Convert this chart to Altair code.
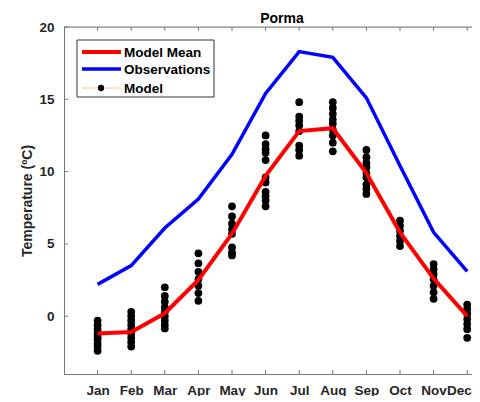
import altair as alt
import pandas as pd

# ─────────────────────────────────────────────────────────────────────────────
# DATI
# ─────────────────────────────────────────────────────────────────────────────
MONTHS = ["Jan", "Feb", "Mar", "Apr", "May", "Jun",
          "Jul", "Aug", "Sep", "Oct", "Nov", "Dec"]
SERIES = ["Model Mean", "Observations", "Model"]
Y_TICKS = [0, 5, 10, 15, 20]
TITLE = "Porma"

observations = [2.2, 3.5, 6.1, 8.1, 11.2, 15.4, 18.3, 17.9, 15.1, 10.4, 5.8, 3.1]
model_mean = [-1.2, -1.1, 0.2, 2.5, 5.7, 9.7, 12.8, 13.0, 9.9, 5.8, 2.6, 0.0]

model_runs = [
    [-0.3, -0.6, -0.9, -1.2, -1.4, -1.6, -1.9, -2.1, -2.4],
    [0.3, 0.0, -0.3, -0.6, -0.9, -1.2, -1.5, -1.8, -2.1],
    [2.0, 1.4, 1.0, 0.6, 0.3, 0.0, -0.3, -0.6, -0.85],
    [4.35, 3.66, 3.07, 2.56, 2.1, 1.6, 1.06],
    [7.6, 6.9, 6.4, 6.0, 5.7, 4.75, 4.4, 4.2],
    [12.5, 11.9, 11.55, 11.3, 10.8, 9.6, 9.25, 8.6, 8.3, 8.0, 7.6],
    [14.8, 13.8, 13.5, 13.2, 12.8, 11.8, 11.5, 11.1],
    [14.8, 14.4, 14.0, 13.6, 13.3, 12.9, 12.5, 12.0, 11.4],
    [11.5, 11.0, 10.6, 10.3, 9.9, 9.6, 9.1, 8.8, 8.45],
    [6.6, 6.25, 5.9, 5.55, 5.2, 4.85],
    [3.6, 3.25, 2.9, 2.55, 2.1, 1.65, 1.2],
    [0.8, 0.5, 0.15, -0.2, -0.55, -0.9, -1.5],
]

# ─────────────────────────────────────────────────────────────────────────────
# IMPOSTAZIONI
# ─────────────────────────────────────────────────────────────────────────────
W, H = 408, 347
X_MAX = 408 / 33.6
Y_MIN, Y_MAX = -4, 20
FONT = "Liberation Sans"
TXT = "#262626"
AX = "#777777"

df_lines = pd.DataFrame({
    "m": list(range(1, 13)),
    "Model Mean": model_mean,
    "Observations": observations,
})
df_runs = pd.DataFrame(
    [{"m": i + 1, "v": v} for i, vals in enumerate(model_runs) for v in vals]
)

label_expr = "[" + ",".join(f"'{m}'" for m in MONTHS) + "][datum.value - 1]"
last = len(MONTHS)


def x_enc(field):
    return alt.X(
        f"{field}:Q",
        scale=alt.Scale(domain=[0, X_MAX], nice=False, zero=False),
        axis=alt.Axis(
            values=list(range(1, 13)), labelExpr=label_expr, ticks=False,
            grid=False, domainColor=AX, labelFont=FONT, labelFontWeight="bold",
            labelFontSize=13.5, labelColor=TXT, labelPadding=9, title=None,
            # l'ultima etichetta resta dentro il bordo destro
            labelAlign={"condition": {"test": f"datum.value == {last}",
                                      "value": "right"}, "value": "center"},
            labelOffset={"condition": {"test": f"datum.value == {last}",
                                       "value": 4}, "value": 0},
        ),
    )


def y_enc(field):
    return alt.Y(
        f"{field}:Q",
        scale=alt.Scale(domain=[Y_MIN, Y_MAX], nice=False, zero=False),
        axis=alt.Axis(
            values=Y_TICKS, ticks=False, grid=False, domainColor=AX,
            labelFont=FONT, labelFontWeight="bold", labelFontSize=13.5,
            labelColor=TXT, labelPadding=10, title="Temperature (ºC)",
            titleFont=FONT, titleFontSize=14, titleFontWeight="bold",
            titleColor=TXT, titlePadding=4,
        ),
    )


# ─────────────────────────────────────────────────────────────────────────────
# TACCHE INTERNE (stile MATLAB)
# ─────────────────────────────────────────────────────────────────────────────
tx = 4 / (W / X_MAX)
ty = 4 / (H / (Y_MAX - Y_MIN))
df_xt = pd.DataFrame({"m": list(range(1, 13))})
df_xt["b0"], df_xt["b1"] = Y_MIN, Y_MIN + ty
df_xt["t0"], df_xt["t1"] = Y_MAX, Y_MAX - ty
df_yt = pd.DataFrame({"v": Y_TICKS})
df_yt["x0"], df_yt["x1"] = 0, tx

ticks_bottom = alt.Chart(df_xt).mark_rule(color=AX, strokeWidth=1).encode(
    x=x_enc("m"), y=y_enc("b0"), y2="b1")
ticks_top = alt.Chart(df_xt).mark_rule(color=AX, strokeWidth=1).encode(
    x=x_enc("m"), y=y_enc("t0"), y2="t1")
ticks_left = alt.Chart(df_yt).mark_rule(color=AX, strokeWidth=1).encode(
    x=x_enc("x0"), x2="x1", y=y_enc("v"))
top_border = alt.Chart(pd.DataFrame({"a": [0]})).mark_rule(
    color=AX, strokeWidth=1).encode(x=alt.value(0), x2=alt.value(W), y=alt.value(0))

# ─────────────────────────────────────────────────────────────────────────────
# SERIE
# ─────────────────────────────────────────────────────────────────────────────
dots = alt.Chart(df_runs).mark_circle(size=60, color="black", opacity=1).encode(
    x=x_enc("m"), y=y_enc("v"))
red = alt.Chart(df_lines).mark_line(color="#ff0000", strokeWidth=4).encode(
    x=x_enc("m"), y=y_enc("Model Mean"))
blue = alt.Chart(df_lines).mark_line(color="#0000ff", strokeWidth=3.5).encode(
    x=x_enc("m"), y=y_enc("Observations"))

# ─────────────────────────────────────────────────────────────────────────────
# TITOLO E LEGENDA
# ─────────────────────────────────────────────────────────────────────────────
one = pd.DataFrame({"a": [0]})
title = alt.Chart(one).mark_text(
    align="center", baseline="alphabetic", font=FONT, fontSize=14,
    fontWeight="bold", color="black").encode(
    x=alt.value(218), y=alt.value(-4), text=alt.value(TITLE))

legend = [
    alt.Chart(one).mark_rect(fill="white", stroke="#333333", strokeWidth=1).encode(
        x=alt.value(13), x2=alt.value(150), y=alt.value(13), y2=alt.value(70))
]
row_y = [25, 42, 61]
row_col = ["#ff0000", "#0000ff", "#f5deb3"]
row_w = [4, 3.5, 1.5]
for name, yy, col, sw in zip(SERIES, row_y, row_col, row_w):
    legend.append(alt.Chart(one).mark_rule(color=col, strokeWidth=sw).encode(
        x=alt.value(18), x2=alt.value(57), y=alt.value(yy)))
    legend.append(alt.Chart(one).mark_text(
        align="left", baseline="middle", font=FONT, fontSize=13.5,
        fontWeight="bold", color="black").encode(
        x=alt.value(60), y=alt.value(yy + 1), text=alt.value(name)))
legend.append(alt.Chart(one).mark_circle(size=40, color="black", opacity=1).encode(
    x=alt.value(37), y=alt.value(row_y[2])))

chart = (
    alt.layer(ticks_bottom, ticks_top, ticks_left, top_border, dots, red, blue,
              title, *legend)
    .properties(
        width=W, height=H,
        autosize=alt.AutoSizeParams(type="none"),
        padding={"left": 56, "top": 19, "right": 0, "bottom": 22},
    )
    .configure_view(stroke=None)
    .configure(background="white")
)

chart.save("out.html", embed_options={"renderer": "svg", "actions": False})
